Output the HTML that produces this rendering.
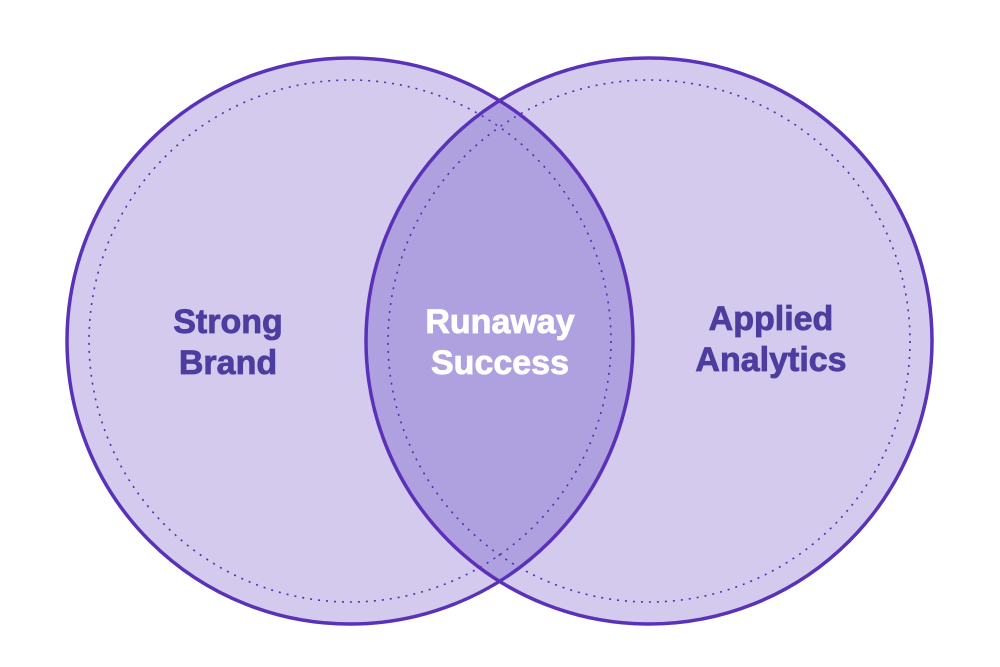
<!DOCTYPE html>
<html><head><style>
html,body{margin:0;padding:0;background:#fff;}
svg{display:block;}
text{font-family:"Liberation Sans",sans-serif;font-weight:bold;font-size:34px;text-anchor:middle;stroke-width:0.8;}
</style></head><body>
<svg width="1000" height="667" viewBox="0 0 1000 667">
<defs>
<clipPath id="cl"><circle cx="350" cy="341" r="283"/></clipPath>
</defs>
<circle cx="350" cy="341" r="283" fill="#d3caee"/>
<circle cx="649" cy="341" r="283" fill="#d3caee"/>
<circle cx="649" cy="341" r="283" fill="#afa1e0" clip-path="url(#cl)"/>
<circle cx="350" cy="341" r="261" fill="none" stroke="#4a32b0" stroke-width="1.6" stroke-dasharray="2 6"/>
<circle cx="649" cy="341" r="261" fill="none" stroke="#4a32b0" stroke-width="1.6" stroke-dasharray="2 6"/>
<circle cx="350" cy="341" r="283" fill="none" stroke="#5a32b8" stroke-width="3.5"/>
<circle cx="649" cy="341" r="283" fill="none" stroke="#5a32b8" stroke-width="3.5"/>
<text x="228" y="333" fill="#4d3d9f" stroke="#4d3d9f">Strong</text>
<text x="228" y="374" fill="#4d3d9f" stroke="#4d3d9f">Brand</text>
<text x="500" y="333" fill="#ffffff" stroke="#ffffff">Runaway</text>
<text x="500" y="374" fill="#ffffff" stroke="#ffffff">Success</text>
<text x="771" y="330" fill="#4d3d9f" stroke="#4d3d9f">Applied</text>
<text x="771" y="371" fill="#4d3d9f" stroke="#4d3d9f">Analytics</text>
</svg>
</body></html>
